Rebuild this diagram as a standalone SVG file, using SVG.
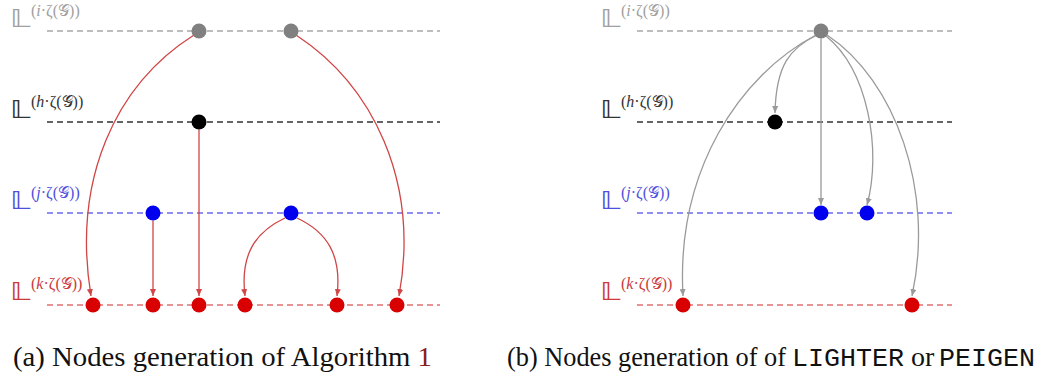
<svg xmlns="http://www.w3.org/2000/svg" width="1051" height="376" viewBox="0 0 1051 376">
<style>
.lvl{fill:none;stroke-width:1.4;stroke-dasharray:6,4}
.bb{font-family:"DejaVu Sans","DejaVu Serif",sans-serif;font-size:25px}
.sup{font-family:"Liberation Serif","DejaVu Serif",serif;font-size:16px}
.er{fill:none;stroke:#d04545;stroke-width:1.3}
.eg{fill:none;stroke:#9a9a9a;stroke-width:1.3}
.cap{font-family:"Liberation Serif",serif;font-size:28px;fill:#111}
.mono{font-family:"Liberation Mono","DejaVu Sans Mono",monospace;font-size:26.7px;fill:#111}
</style>
<defs>
<marker id="ar" markerUnits="userSpaceOnUse" markerWidth="7" markerHeight="6" refX="7" refY="3" orient="auto"><path d="M0,0 L7,3 L0,6 Z" fill="#d04545"/></marker>
<marker id="ag" markerUnits="userSpaceOnUse" markerWidth="7" markerHeight="6" refX="7" refY="3" orient="auto"><path d="M0,0 L7,3 L0,6 Z" fill="#9a9a9a"/></marker>
</defs>
<rect width="1051" height="376" fill="#fff"/>
<g id="levels-a">
<line class="lvl" x1="47" y1="31" x2="440" y2="31" stroke="#a8a8a8"/>
<line class="lvl" x1="47" y1="122" x2="440" y2="122" stroke="#333"/>
<line class="lvl" x1="47" y1="213" x2="440" y2="213" stroke="#6a6af0"/>
<line class="lvl" x1="47" y1="305" x2="440" y2="305" stroke="#e07070"/>
</g>
<g id="levels-b">
<line class="lvl" x1="637" y1="31" x2="952" y2="31" stroke="#a8a8a8"/>
<line class="lvl" x1="637" y1="122" x2="952" y2="122" stroke="#333"/>
<line class="lvl" x1="637" y1="213" x2="952" y2="213" stroke="#6a6af0"/>
<line class="lvl" x1="637" y1="305" x2="952" y2="305" stroke="#e07070"/>
</g>
<g id="labels-a">
<text class="bb" transform="translate(10,27) scale(1.25,1)" fill="#a0a0a0">𝕃</text><text class="sup" x="31" y="16" fill="#a0a0a0">(<tspan font-style="italic">i</tspan>·ζ(𝒢))</text>
<text class="bb" transform="translate(10,118) scale(1.25,1)" fill="#333">𝕃</text><text class="sup" x="31" y="107" fill="#333">(<tspan font-style="italic">h</tspan>·ζ(𝒢))</text>
<text class="bb" transform="translate(10,209) scale(1.25,1)" fill="#5050e0">𝕃</text><text class="sup" x="31" y="198" fill="#5050e0">(<tspan font-style="italic">j</tspan>·ζ(𝒢))</text>
<text class="bb" transform="translate(10,300) scale(1.25,1)" fill="#cc3a3a">𝕃</text><text class="sup" x="31" y="289" fill="#cc3a3a">(<tspan font-style="italic">k</tspan>·ζ(𝒢))</text>
</g>
<g id="labels-b">
<text class="bb" transform="translate(600,27) scale(1.25,1)" fill="#a0a0a0">𝕃</text><text class="sup" x="621" y="16" fill="#a0a0a0">(<tspan font-style="italic">i</tspan>·ζ(𝒢))</text>
<text class="bb" transform="translate(600,118) scale(1.25,1)" fill="#333">𝕃</text><text class="sup" x="621" y="107" fill="#333">(<tspan font-style="italic">h</tspan>·ζ(𝒢))</text>
<text class="bb" transform="translate(600,209) scale(1.25,1)" fill="#5050e0">𝕃</text><text class="sup" x="621" y="198" fill="#5050e0">(<tspan font-style="italic">j</tspan>·ζ(𝒢))</text>
<text class="bb" transform="translate(600,300) scale(1.25,1)" fill="#cc3a3a">𝕃</text><text class="sup" x="621" y="289" fill="#cc3a3a">(<tspan font-style="italic">k</tspan>·ζ(𝒢))</text>
</g>
<g id="connectors">
<path class="er" marker-end="url(#ar)" d="M194,35 C115,85 72,180 91,296"/>
<path class="er" marker-end="url(#ar)" d="M296,35 C372,85 420,180 399,296"/>
<path class="er" marker-end="url(#ar)" d="M199,129.5 L199,296"/>
<path class="er" marker-end="url(#ar)" d="M153,220.5 L153,296"/>
<path class="er" marker-end="url(#ar)" d="M285,218 C255,232 240,255 245,296"/>
<path class="er" marker-end="url(#ar)" d="M297,218 C327,232 342,255 337,296"/>
<path class="eg" marker-end="url(#ag)" d="M816,35 C740,75 676,170 683,296"/>
<path class="eg" marker-end="url(#ag)" d="M817,35 C790,48 776,65 775,113"/>
<path class="eg" marker-end="url(#ag)" d="M821,38.5 L821,205"/>
<path class="eg" marker-end="url(#ag)" d="M826,36 C868,70 882,150 867,205"/>
<path class="eg" marker-end="url(#ag)" d="M827,35 C895,80 935,190 912,296"/>
</g>
<g id="node-a-i1"><circle cx="199" cy="31" r="7.5" fill="#808080"/></g>
<g id="node-a-i2"><circle cx="291" cy="31" r="7.5" fill="#808080"/></g>
<g id="node-a-h1"><circle cx="199" cy="122" r="7.5" fill="#000"/></g>
<g id="node-a-j1"><circle cx="153" cy="213" r="7.5" fill="#0000ee"/></g>
<g id="node-a-j2"><circle cx="291" cy="213" r="7.5" fill="#0000ee"/></g>
<g id="node-a-k1"><circle cx="93" cy="305" r="7.5" fill="#d80000"/></g>
<g id="node-a-k2"><circle cx="153" cy="305" r="7.5" fill="#d80000"/></g>
<g id="node-a-k3"><circle cx="199" cy="305" r="7.5" fill="#d80000"/></g>
<g id="node-a-k4"><circle cx="245" cy="305" r="7.5" fill="#d80000"/></g>
<g id="node-a-k5"><circle cx="337" cy="305" r="7.5" fill="#d80000"/></g>
<g id="node-a-k6"><circle cx="397" cy="305" r="7.5" fill="#d80000"/></g>
<g id="node-b-i1"><circle cx="821" cy="31" r="7.5" fill="#808080"/></g>
<g id="node-b-h1"><circle cx="775" cy="122" r="7.5" fill="#000"/></g>
<g id="node-b-j1"><circle cx="821" cy="213" r="7.5" fill="#0000ee"/></g>
<g id="node-b-j2"><circle cx="867" cy="213" r="7.5" fill="#0000ee"/></g>
<g id="node-b-k1"><circle cx="683" cy="305" r="7.5" fill="#d80000"/></g>
<g id="node-b-k2"><circle cx="912" cy="305" r="7.5" fill="#d80000"/></g>
<g id="captions">
<text class="cap" x="13" y="366" textLength="419" lengthAdjust="spacingAndGlyphs">(a) Nodes generation of Algorithm <tspan fill="#8b1a1a">1</tspan></text>
<text class="cap" x="507" y="366" textLength="279" lengthAdjust="spacingAndGlyphs">(b) Nodes generation of of</text>
<text class="mono" x="792" y="366">LIGHTER</text>
<text class="cap" x="911" y="366">or</text>
<text class="mono" x="939" y="366">PEIGEN</text>
</g>
</svg>
